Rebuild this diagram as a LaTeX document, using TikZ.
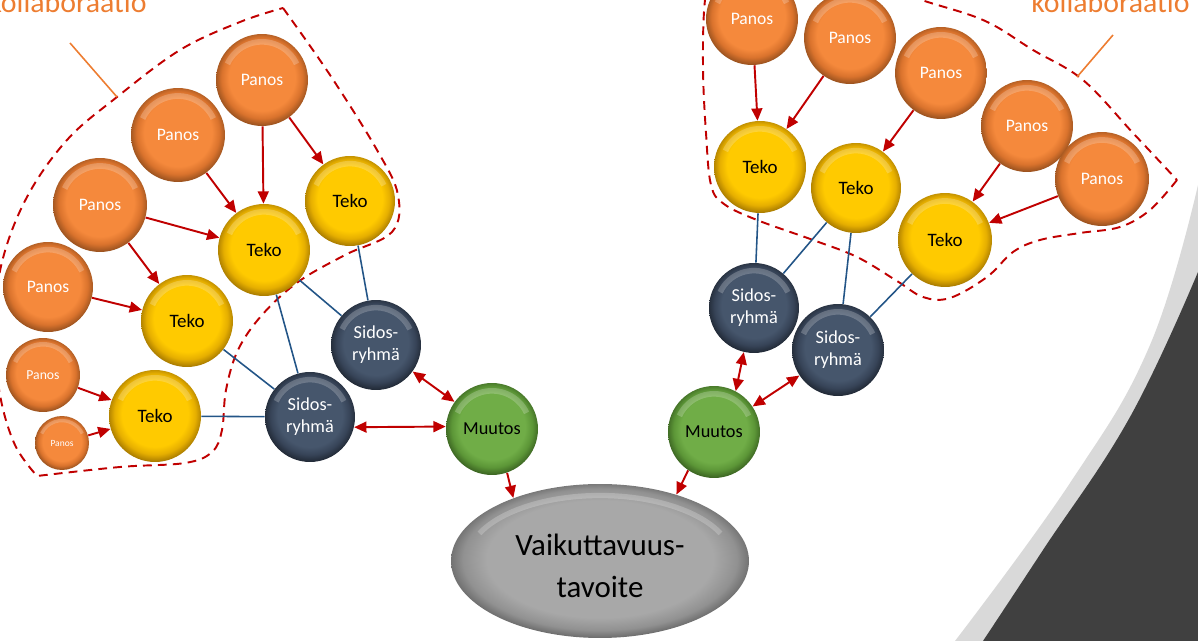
\documentclass[tikz,border=0pt]{standalone}
\usepackage{fontspec}
\setmainfont{Carlito}
\usetikzlibrary{arrows.meta,shapes.geometric,calc}

\definecolor{oMain}{RGB}{245,137,60}
\definecolor{oMid}{RGB}{218,115,45}
\definecolor{oDark}{RGB}{150,80,30}
\definecolor{yMain}{RGB}{255,202,0}
\definecolor{yMid}{RGB}{230,175,0}
\definecolor{yDark}{RGB}{165,120,0}
\definecolor{sMain}{RGB}{70,86,108}
\definecolor{sMid}{RGB}{55,68,88}
\definecolor{sDark}{RGB}{32,40,52}
\definecolor{gMain}{RGB}{112,173,71}
\definecolor{gMid}{RGB}{92,150,55}
\definecolor{gDark}{RGB}{58,98,33}
\definecolor{eMain}{RGB}{168,168,168}
\definecolor{eMid}{RGB}{145,145,145}
\definecolor{eDark}{RGB}{100,100,100}
\definecolor{arrRed}{RGB}{192,0,0}
\definecolor{lineBlue}{RGB}{35,85,135}
\definecolor{labOrange}{RGB}{237,125,49}
\definecolor{bandLight}{RGB}{217,217,217}
\definecolor{bandDark}{RGB}{64,64,64}

\pgfdeclareradialshading{shO}{\pgfpoint{0bp}{2bp}}{color(0bp)=(oMain); color(18bp)=(oMain); color(22bp)=(oMid); color(26bp)=(oDark); color(50bp)=(oDark)}
\pgfdeclareradialshading{shY}{\pgfpoint{0bp}{2bp}}{color(0bp)=(yMain); color(18bp)=(yMain); color(22bp)=(yMid); color(26bp)=(yDark); color(50bp)=(yDark)}
\pgfdeclareradialshading{shS}{\pgfpoint{0bp}{2bp}}{color(0bp)=(sMain); color(18bp)=(sMain); color(22bp)=(sMid); color(26bp)=(sDark); color(50bp)=(sDark)}
\pgfdeclareradialshading{shG}{\pgfpoint{0bp}{2bp}}{color(0bp)=(gMain); color(18bp)=(gMain); color(22bp)=(gMid); color(26bp)=(gDark); color(50bp)=(gDark)}
\pgfdeclareradialshading{shE}{\pgfpoint{0bp}{1bp}}{color(0bp)=(eMain); color(19bp)=(eMain); color(23bp)=(eMid); color(26bp)=(eDark); color(50bp)=(eDark)}

% name, x, y, radius(px), style, text
\newcommand\ballnode[6]{%
  \node[#5, minimum size={#4*0.04cm}] (#1) at (#2,#3) {#6};
  \draw[white, opacity=0.22, line width={#4*0.07pt}] (#1.center) ++(155:{#4*0.83*0.02cm}) arc[start angle=155, end angle=25, radius={#4*0.83*0.02cm}];
}

\begin{document}
\begin{tikzpicture}[x=0.02cm, y=-0.02cm,
  ballbase/.style={circle, inner sep=0pt, shade},
  panos/.style={ballbase, shading=shO, text=white, font=\fontsize{10}{11.5}\selectfont},
  teko/.style={ballbase, shading=shY, text=black, font=\fontsize{10.8}{12.5}\selectfont},
  sidos/.style={ballbase, shading=shS, text=white, align=center, font=\fontsize{10.4}{12.6}\selectfont},
  muutos/.style={ballbase, shading=shG, text=black, font=\fontsize{10.4}{12}\selectfont},
  goal/.style={ellipse, inner sep=0pt, shade, shading=shE, align=center, font=\fontsize{17.6}{23.8}\selectfont, minimum width=5.96cm, minimum height=3.08cm},
  arr/.style={draw=arrRed, line width=1.1pt, -{Triangle[length=7pt,width=6.2pt]}},
  dblarr/.style={draw=arrRed, line width=1.1pt, {Triangle[length=7pt,width=6.2pt]}-{Triangle[length=7pt,width=6.2pt]}},
  link/.style={draw=lineBlue, line width=0.9pt},
  outline/.style={draw=arrRed, line width=1.1pt, dash pattern=on 5pt off 3.5pt},
  leader/.style={draw=labOrange, line width=0.9pt},
  collab/.style={text=labOrange, font=\fontsize{17}{20}\selectfont, inner sep=0pt}
]
\useasboundingbox (0,0) rectangle (1198,641);
\clip (0,0) rectangle (1198,641);

% background bands
\fill[bandLight] plot[smooth, tension=0.7] coordinates {(1198,185) (1150,345) (1070,483) (955,641)} -- (1198,641) -- cycle;
\fill[bandDark] plot[smooth, tension=0.7] coordinates {(1198,272) (1130,417) (1043,550) (983,641)} -- (1198,641) -- cycle;

% dashed outlines
\draw[outline] plot[smooth, tension=0.6] coordinates {(283,8) (330,75) (377,150) (398,195) (392,232) (345,255) (298,282) (262,315) (238,350) (226,390) (222,430) (212,452) (185,463) (120,467) (37,476)}
  -- plot[smooth, tension=0.6] coordinates {(37,476) (15,445) (0,395) (-6,330) (2,262) (27,197) (67,140) (117,97) (180,50) (240,22) (283,8)};
\draw[outline] plot[smooth, tension=0.6] coordinates {(1177,180) (1150,210) (1120,227) (1080,233) (1040,240) (1013,252) (987,277) (950,298) (923,297) (897,281) (857,257) (813,240) (757,220) (724,204) (711,185) (706,133) (703,67) (705,0) (715,-40) (780,-50) (850,-30) (913,-3) (983,20) (1033,50) (1083,80) (1133,133) (1177,180)};

% labels
\node[collab, anchor=base east] (labL) at (147,13) {kollaboraatio};
\node[collab, anchor=base east] (labR) at (1190,13) {kollaboraatio};
\coordinate (ldL1) at (70,43);
\coordinate (ldL2) at (117,97);
\coordinate (ldR1) at (1113,35);
\coordinate (ldR2) at (1077,77);
\draw[leader] (ldL1) -- (ldL2);
\draw[leader] (ldR1) -- (ldR2);

% left group
\ballnode{pA}{262}{80}{46}{panos}{Panos}
\ballnode{pB}{178}{135}{47}{panos}{Panos}
\ballnode{pC}{100}{205}{47}{panos}{Panos}
\ballnode{pD}{48}{287}{45}{panos}{Panos}
\ballnode{pE}{43}{375}{37}{panos,font=\fontsize{7.8}{9}\selectfont}{Panos}
\ballnode{pF}{62}{443}{27}{panos,font=\fontsize{5.4}{6}\selectfont}{Panos}
\ballnode{t1}{350}{201}{45}{teko}{Teko}
\ballnode{t2}{264}{250}{46}{teko}{Teko}
\ballnode{t3}{187}{321}{46}{teko}{Teko}
\ballnode{t4}{155}{416}{46}{teko}{Teko}
\ballnode{s1}{376}{345}{45}{sidos}{Sidos-\\ryhmä}
\ballnode{s2}{310}{417}{45}{sidos}{Sidos-\\ryhmä}
\ballnode{mL}{492}{429}{46}{muutos}{Muutos}

% right group
\ballnode{q1}{752}{19}{46}{panos}{Panos}
\ballnode{q2}{850}{38}{46}{panos}{Panos}
\ballnode{q3}{941}{73}{46}{panos}{Panos}
\ballnode{q4}{1027}{126}{46}{panos}{Panos}
\ballnode{q5}{1102}{179}{47}{panos}{Panos}
\ballnode{u1}{760}{167}{46}{teko}{Teko}
\ballnode{u2}{856}{188}{45}{teko}{Teko}
\ballnode{u3}{945}{240}{47}{teko}{Teko}
\ballnode{r1}{754}{308}{45}{sidos}{Sidos-\\ryhmä}
\ballnode{r2}{838}{350}{46}{sidos}{Sidos-\\ryhmä}
\ballnode{mR}{714}{432}{46}{muutos}{Muutos}

% goal
\node[goal] (goal) at (600,561) {\\[-6pt]Vaikuttavuus-\\tavoite};
\draw[white, opacity=0.22, line width=3pt] (goal.center) ++(155:2.66cm and 1.31cm) arc[start angle=155, end angle=25, x radius=2.66cm, y radius=1.31cm];

% left connectors
\draw[arr] (pA) -- (t2);
\draw[arr] (pA) -- (t1);
\draw[arr] (pB) -- (t2);
\draw[arr] (pC) -- (t2);
\draw[arr] (pC) -- (t3);
\draw[arr] (pD) -- (t3);
\draw[arr] (pE) -- (t4);
\draw[arr] (pF) -- (t4);
\draw[link] (t1) -- (s1);
\draw[link] (t2) -- (s1);
\draw[link] (t2) -- (s2);
\draw[link] (t3) -- (s2);
\draw[link] (t4) -- (s2);
\draw[dblarr] (s1) -- (mL);
\draw[dblarr] (s2.-13) -- (mL.177);
\draw[arr] (mL.-71) -- (goal.144);

% right connectors
\draw[arr] (q1) -- (u1);
\draw[arr] (q2) -- (u1);
\draw[arr] (q3) -- (u2);
\draw[arr] (q4) -- (u3);
\draw[arr] (q5) -- (u3);
\draw[link] (u1) -- (r1);
\draw[link] (u2) -- (r1);
\draw[link] (u2) -- (r2);
\draw[link] (u3) -- (r2);
\draw[dblarr] (r1.257) -- (mR.62);
\draw[dblarr] (r2) -- (mR);
\draw[arr] (mR.236) -- (goal.41);
\end{tikzpicture}
\end{document}
